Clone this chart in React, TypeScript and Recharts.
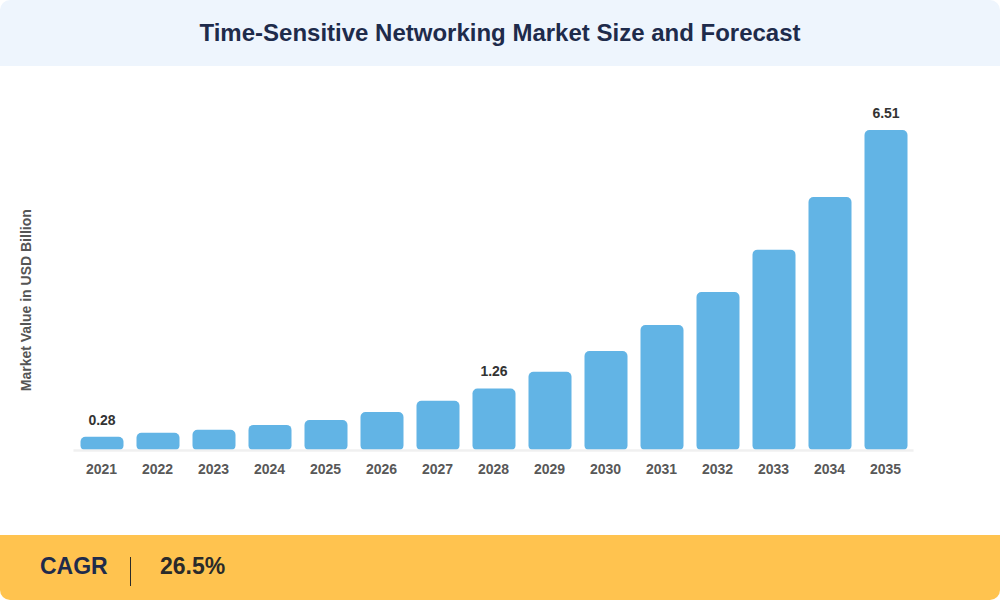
import React from 'react';
import { BarChart, Bar, XAxis, YAxis, LabelList } from 'recharts';

const years = ['2021','2022','2023','2024','2025','2026','2027','2028','2029','2030','2031','2032','2033','2034','2035'];
const values = [0.28, 0.36, 0.42, 0.52, 0.62, 0.78, 1.01, 1.26, 1.6, 2.02, 2.55, 3.22, 4.08, 5.15, 6.51];
const labeledYears = ['2021', '2028', '2035'];
const title = 'Time-Sensitive Networking Market Size and Forecast';
const yAxisTitle = 'Market Value in USD Billion';
const cagrLabel = 'CAGR';
const cagrValue = '26.5%';

const data = years.map((y, i) => ({ year: y, value: values[i] }));

const FONT = '"Liberation Sans", Arial, Helvetica, sans-serif';

const ValueLabel = (props: any) => {
  const { x, y, width, value, index } = props;
  if (!labeledYears.includes(years[index])) return null;
  return (
    <text x={x + width / 2} y={y - 12} textAnchor="middle" fill="#333333" fontSize={14} fontWeight={700} fontFamily={FONT}>
      {Number(value).toFixed(2)}
    </text>
  );
};

const YTitle = (props: any) => {
  const vb = props.viewBox || {};
  const cx = 26;
  const cy = vb.y + vb.height / 2 + 10;
  return (
    <text x={cx} y={cy} transform={`rotate(-90 ${cx} ${cy})`} textAnchor="middle" dominantBaseline="central" fill="#555555" fontSize={14} fontWeight={700} fontFamily={FONT}>
      {yAxisTitle}
    </text>
  );
};

export default function App() {
  return (
    <div style={{ position: 'absolute', left: 0, top: 0, width: 1000, height: 600, background: '#ffffff', borderRadius: 10, overflow: 'hidden', fontFamily: FONT }}>
      <div style={{ position: 'absolute', left: 0, top: 0, width: 1000, height: 66, background: '#EEF5FD', display: 'flex', alignItems: 'center', justifyContent: 'center' }}>
        <span style={{ color: '#1E2B4B', fontSize: 24, fontWeight: 700, lineHeight: 1 }}>{title}</span>
      </div>
      <div style={{ position: 'absolute', left: 0, top: 0 }}>
        <BarChart width={1000} height={600} data={data} margin={{ top: 130, right: 86.5, bottom: 119.5, left: 0 }} barCategoryGap={13}>
          <XAxis dataKey="year" tickLine={false} axisLine={{ stroke: '#F0F0F0', strokeWidth: 2.5 }} tickMargin={8} height={30} interval={0}
            tick={{ fill: '#585858', fontSize: 14, fontWeight: 700, fontFamily: FONT }} />
          <YAxis width={73.5} domain={[0, 'dataMax']} tick={false} tickLine={false} axisLine={false} label={<YTitle />} />
          <Bar dataKey="value" fill="#62B4E5" barSize={43} radius={[5, 5, 5, 5]} isAnimationActive={false}>
            <LabelList dataKey="value" content={<ValueLabel />} />
          </Bar>
        </BarChart>
      </div>
      <div style={{ position: 'absolute', left: 0, top: 535, width: 1000, height: 65, background: '#FFC34F' }}>
        <span style={{ position: 'absolute', left: 40, top: 0, height: 65, lineHeight: '63px', color: '#1E2B4B', fontSize: 23, fontWeight: 700 }}>{cagrLabel}</span>
        <div style={{ position: 'absolute', left: 129.5, top: 22, width: 1.5, height: 29, background: '#2A2A2A' }} />
        <span style={{ position: 'absolute', left: 160, top: 0, height: 65, lineHeight: '63px', color: '#2A2A2A', fontSize: 23, fontWeight: 700 }}>{cagrValue}</span>
      </div>
    </div>
  );
}
